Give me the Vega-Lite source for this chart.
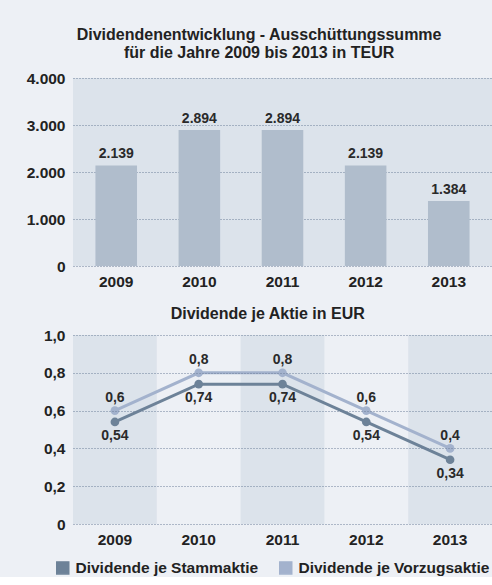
{
  "$schema": "https://vega.github.io/schema/vega-lite/v6.json",
  "background": "#edf0f5",
  "padding": {"left": 26, "top": 27, "right": 0, "bottom": 0},
  "spacing": 16,
  "datasets": {
    "totals": [
      {"year": "2009", "value": 2139},
      {"year": "2010", "value": 2894},
      {"year": "2011", "value": 2894},
      {"year": "2012", "value": 2139},
      {"year": "2013", "value": 1384}
    ],
    "perShare": [
      {"year": "2009", "series": "Dividende je Stammaktie", "value": 0.54},
      {"year": "2010", "series": "Dividende je Stammaktie", "value": 0.74},
      {"year": "2011", "series": "Dividende je Stammaktie", "value": 0.74},
      {"year": "2012", "series": "Dividende je Stammaktie", "value": 0.54},
      {"year": "2013", "series": "Dividende je Stammaktie", "value": 0.34},
      {"year": "2009", "series": "Dividende je Vorzugsaktie", "value": 0.6},
      {"year": "2010", "series": "Dividende je Vorzugsaktie", "value": 0.8},
      {"year": "2011", "series": "Dividende je Vorzugsaktie", "value": 0.8},
      {"year": "2012", "series": "Dividende je Vorzugsaktie", "value": 0.6},
      {"year": "2013", "series": "Dividende je Vorzugsaktie", "value": 0.4}
    ],
    "bands": [
      {"year": "2009", "lo": 0, "hi": 1},
      {"year": "2011", "lo": 0, "hi": 1},
      {"year": "2013", "lo": 0, "hi": 1}
    ]
  },
  "vconcat": [
    {
      "width": 419,
      "height": 188,
      "title": {
        "text": ["Dividendenentwicklung - Ausschüttungssumme", "für die Jahre 2009 bis 2013 in TEUR"],
        "anchor": "middle",
        "frame": "bounds",
        "offset": 10,
        "lineHeight": 18
      },
      "view": {"fill": "#dce3eb", "stroke": null},
      "data": {"name": "totals"},
      "encoding": {
        "x": {
          "field": "year",
          "type": "ordinal",
          "title": null,
          "scale": {"paddingInner": 0.5, "paddingOuter": 0.27}
        },
        "y": {
          "field": "value",
          "type": "quantitative",
          "title": null,
          "scale": {"domain": [0, 4000]},
          "axis": {"values": [0, 1000, 2000, 3000, 4000], "format": ",d"}
        }
      },
      "layer": [
        {"mark": {"type": "bar", "color": "#b0bdcc"}},
        {
          "mark": {"type": "text", "dy": -4, "baseline": "bottom", "fontSize": 14, "fontWeight": "bold", "color": "#2a2a2a"},
          "encoding": {"text": {"field": "value", "type": "quantitative", "format": ",d"}}
        }
      ]
    },
    {
      "width": 419,
      "height": 189,
      "title": {
        "text": "Dividende je Aktie in EUR",
        "anchor": "middle",
        "frame": "bounds",
        "offset": 6
      },
      "view": {"stroke": null},
      "layer": [
        {
          "data": {"name": "bands"},
          "mark": {"type": "rect", "color": "#dce3eb"},
          "encoding": {
            "x": {"field": "year", "type": "ordinal", "title": null, "scale": {"paddingInner": 0, "paddingOuter": 0}},
            "y": {"field": "lo", "type": "quantitative", "title": null, "scale": {"domain": [0, 1]},
                  "axis": {"values": [0, 0.2, 0.4, 0.6, 0.8, 1], "zindex": 1, "labelExpr": "datum.value == 0 ? '0' : format(datum.value, '.1f')"}},
            "y2": {"field": "hi"}
          }
        },
        {
          "data": {"name": "perShare"},
          "mark": {"type": "line", "strokeWidth": 3},
          "encoding": {
            "x": {"field": "year", "type": "ordinal", "title": null},
            "y": {"field": "value", "type": "quantitative", "title": null,
                  "axis": {"values": [0, 0.2, 0.4, 0.6, 0.8, 1], "zindex": 1, "labelExpr": "datum.value == 0 ? '0' : format(datum.value, '.1f')"}},
            "color": {"field": "series", "type": "nominal",
                      "scale": {"domain": ["Dividende je Stammaktie", "Dividende je Vorzugsaktie"], "range": ["#6d8298", "#a3b2cd"]},
                      "legend": {"orient": "none", "legendX": -18, "legendY": 482, "direction": "horizontal", "title": null,
                                 "symbolType": "square", "symbolSize": 144, "labelOffset": 5, "columnPadding": 17, "labelLimit": 400,
                                 "labelFontSize": 15.5, "labelFontWeight": "bold", "labelColor": "#222"}}
          }
        },
        {
          "data": {"name": "perShare"},
          "mark": {"type": "point", "filled": true, "opacity": 1, "size": 75},
          "encoding": {
            "x": {"field": "year", "type": "ordinal", "title": null},
            "y": {"field": "value", "type": "quantitative", "title": null,
                  "axis": {"values": [0, 0.2, 0.4, 0.6, 0.8, 1], "zindex": 1, "labelExpr": "datum.value == 0 ? '0' : format(datum.value, '.1f')"}},
            "color": {"field": "series", "type": "nominal",
                      "legend": {"orient": "none", "legendX": -18, "legendY": 482, "direction": "horizontal", "title": null,
                                 "symbolType": "square", "symbolSize": 144, "labelOffset": 5, "columnPadding": 17, "labelLimit": 400,
                                 "labelFontSize": 15.5, "labelFontWeight": "bold", "labelColor": "#222"}}
          }
        },
        {
          "data": {"name": "perShare"},
          "transform": [{"filter": "datum.series == 'Dividende je Vorzugsaktie'"}],
          "mark": {"type": "text", "dy": -12.5, "baseline": "middle", "fontSize": 14, "fontWeight": "bold", "color": "#2a2a2a"},
          "encoding": {
            "x": {"field": "year", "type": "ordinal", "title": null},
            "y": {"field": "value", "type": "quantitative", "title": null,
                  "axis": {"values": [0, 0.2, 0.4, 0.6, 0.8, 1], "zindex": 1, "labelExpr": "datum.value == 0 ? '0' : format(datum.value, '.1f')"}},
            "text": {"field": "value", "type": "quantitative", "format": ".2~f"}
          }
        },
        {
          "data": {"name": "perShare"},
          "transform": [{"filter": "datum.series == 'Dividende je Stammaktie'"}],
          "mark": {"type": "text", "dy": 14, "baseline": "middle", "fontSize": 14, "fontWeight": "bold", "color": "#2a2a2a"},
          "encoding": {
            "x": {"field": "year", "type": "ordinal", "title": null},
            "y": {"field": "value", "type": "quantitative", "title": null,
                  "axis": {"values": [0, 0.2, 0.4, 0.6, 0.8, 1], "zindex": 1, "labelExpr": "datum.value == 0 ? '0' : format(datum.value, '.1f')"}},
            "text": {"field": "value", "type": "quantitative", "format": ".2~f"}
          }
        }
      ]
    }
  ],
  "config": {
    "font": "Liberation Sans",
    "locale": {"number": {"decimal": ",", "thousands": ".", "grouping": [3], "currency": ["", " €"]}},
    "title": {"fontSize": 16, "fontWeight": "bold", "color": "#222"},
    "axis": {
      "domain": false,
      "ticks": false,
      "labelFontSize": 15.5,
      "labelFontWeight": "bold",
      "labelColor": "#222",
      "labelPadding": 8,
      "labelOverlap": false,
      "gridColor": "#6c7f98",
      "gridDash": [1, 2],
      "gridWidth": 1
    },
    "axisX": {"grid": false, "labelAngle": 0},
    "axisY": {"grid": true}
  }
}
